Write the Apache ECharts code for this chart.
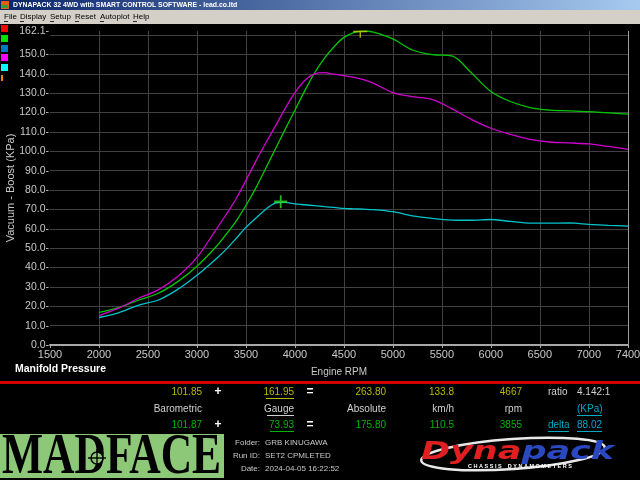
<!DOCTYPE html>
<html><head><meta charset="utf-8">
<script src="https://cdn.jsdelivr.net/npm/echarts@6/dist/echarts.min.js"></script>
<style>html,body{margin:0;padding:0;background:#000}#c{width:640px;height:480px}</style>
</head><body><div id="c"></div>
<script>
// ---- data ----
const rpm = [2000,2200,2400,2600,2800,3000,3200,3300,3400,3500,3600,3700,3800,3900,4000,4100,4200,4300,4400,4500,4600,4700,4800,5000,5200,5400,5600,5800,6000,6200,6400,6600,6800,7000,7200,7400];
const boostGreen = [16.9,19.3,23.1,26.6,32.6,40.7,51,57.3,64,72,81,91,101.2,111.3,121.2,131.2,140.4,148,154,158.8,161.3,162.1,161.5,158,152.3,149.9,149.2,140.5,130.9,125.7,122.6,121.3,120.9,120.5,119.8,119.2];
const boostMagenta = [15.2,19,24,28.3,35.2,45.2,60,67.5,75.5,85,94.8,104,113,122,130.3,136.5,140,140.6,139.8,139.1,138.2,137,135.2,130.3,128.2,126.8,122,116.5,111.9,108.7,106.2,104.8,104.3,103.8,102.5,101];
const boostCyan = [14.2,16.6,20.5,23.1,28.6,36,44.7,49.5,55,60.7,65.4,70,73.2,73.6,72.9,72.4,71.9,71.4,71,70.5,70.3,70.1,69.9,68.8,66.7,65.4,64.5,64.4,64.8,63.8,62.9,62.9,63,62.3,61.8,61.4];
const cursorGreen = [4667, 161.95];
const cursorCyan = [3855, 73.93];
const xMin = 1500, xMax = 7400, xStep = 500;
const yMin = 0, yMax = 162.1, yStep = 10;
const titleText = 'DYNAPACK 32 4WD with SMART CONTROL SOFTWARE - lead.co.ltd';
const menuItems = ['File','Display','Setup','Reset','Autoplot','Help'];
const row1 = ['101.85','161.95','263.80','133.8','4667','4.142:1'];
const row2 = ['Barometric','Gauge','Absolute','km/h','rpm','(KPa)'];
const row3 = ['101.87','73.93','175.80','110.5','3855','88.02'];
const infoLabels = ['Folder:','Run ID:','Date:'];
const infoValues = ['GRB KINUGAWA','SET2 CPMLETED','2024-04-05 16:22:52'];

function zip(xs, ys){ return xs.map((x,i)=>[x, ys[i]]); }

const chart = echarts.init(document.getElementById('c'), null, {renderer:'canvas', width:640, height:480});
const F = "'Liberation Sans', Arial, sans-serif";
const g = [];
// title bar
g.push({type:'rect', shape:{x:0,y:0,width:640,height:10}, style:{fill:new echarts.graphic.LinearGradient(0,0,1,0,[{offset:0,color:'#0a246a'},{offset:1,color:'#a6caf0'}])}});
g.push({type:'rect', shape:{x:1,y:1,width:8,height:8}, style:{fill:'#e06010'}});
g.push({type:'rect', shape:{x:2,y:5,width:6,height:3}, style:{fill:'#30a030'}});
g.push({type:'text', x:13, y:5, scaleX:0.86, style:{text:titleText, fill:'#fff', font:'bold 8px '+F, textVerticalAlign:'middle'}});
// menu
g.push({type:'rect', shape:{x:0,y:10,width:640,height:14}, style:{fill:'#d4d0c8'}});
const menuX = [4,20,50,75,100,133];
menuItems.forEach((m,i)=>{
  g.push({type:'text', x:menuX[i], y:17, style:{text:m, fill:'#000', font:'8px '+F, textVerticalAlign:'middle'}});
  g.push({type:'rect', shape:{x:menuX[i],y:21,width:4,height:0.8}, style:{fill:'#000'}});
});
// legend squares
[['#ff0000',25],['#00e000',35],['#0078c0',45],['#ff00ff',54],['#00ffff',64]].forEach(s=>{
  g.push({type:'rect', shape:{x:1,y:s[1],width:7,height:7}, style:{fill:s[0]}});
});
g.push({type:'rect', shape:{x:1,y:75,width:2,height:6}, style:{fill:'#ff8000'}});
// manifold pressure label
g.push({type:'text', x:15, y:369, style:{text:'Manifold Pressure', fill:'#fff', font:'bold 10.5px '+F, textVerticalAlign:'middle'}});
// red separator
g.push({type:'rect', shape:{x:0,y:381,width:640,height:3}, style:{fill:'#d00000'}});
// value rows
const colX = [202,294,386,454,522];
const rowY = [392,409,425];
const rowColors = ['#b8b800','#d0d0d0','#00b400'];
const RF = '10px '+F;
[row1,row2,row3].forEach((row,ri)=>{
  for(let c=0;c<5;c++){
    g.push({type:'text', x:colX[c], y:rowY[ri], style:{text:row[c], fill:rowColors[ri], font:RF, textAlign:'right', textVerticalAlign:'middle'}});
  }
});
[[266,294,0,'#b8b800'],[267,294,1,'#d0d0d0'],[270,294,2,'#00b400']].forEach(u=>{
  g.push({type:'rect', shape:{x:u[0],y:rowY[u[2]]+6,width:u[1]-u[0],height:1}, style:{fill:u[3]}});
});
[0,2].forEach(ri=>{
  g.push({type:'text', x:218, y:rowY[ri], style:{text:'+', fill:'#fff', font:'bold 12px '+F, textAlign:'center', textVerticalAlign:'middle'}});
  g.push({type:'text', x:310, y:rowY[ri], style:{text:'=', fill:'#fff', font:'bold 12px '+F, textAlign:'center', textVerticalAlign:'middle'}});
});
g.push({type:'text', x:548, y:rowY[0], style:{text:'ratio', fill:'#d0d0d0', font:RF, textVerticalAlign:'middle'}});
g.push({type:'text', x:577, y:rowY[0], style:{text:row1[5], fill:'#d0d0d0', font:RF, textVerticalAlign:'middle'}});
g.push({type:'text', x:577, y:rowY[1], style:{text:row2[5], fill:'#00a8c8', font:RF, textVerticalAlign:'middle'}});
g.push({type:'rect', shape:{x:577,y:rowY[1]+6,width:25,height:1}, style:{fill:'#00a8c8'}});
g.push({type:'text', x:548, y:rowY[2], style:{text:'delta', fill:'#00a8c8', font:RF, textVerticalAlign:'middle'}});
g.push({type:'rect', shape:{x:548,y:rowY[2]+6,width:21,height:1}, style:{fill:'#00a8c8'}});
g.push({type:'text', x:577, y:rowY[2], style:{text:row3[5], fill:'#00a8c8', font:RF, textVerticalAlign:'middle'}});
g.push({type:'rect', shape:{x:577,y:rowY[2]+6,width:25,height:1}, style:{fill:'#00a8c8'}});
// MADFACE logo
g.push({type:'rect', shape:{x:0,y:434,width:224,height:44}, style:{fill:'#8cc878'}});
g.push({type:'text', x:2, y:458, scaleX:0.75, style:{text:'MADFACE', fill:'#000', font:'bold 58px "Liberation Serif", serif', textVerticalAlign:'middle'}});
g.push({type:'circle', shape:{cx:97,cy:458,r:6}, style:{fill:'#8cc878', stroke:'#000', lineWidth:1.5}});
g.push({type:'rect', shape:{x:88,y:457.3,width:18,height:1.4}, style:{fill:'#000'}});
g.push({type:'rect', shape:{x:96.3,y:449,width:1.4,height:18}, style:{fill:'#000'}});
// info
infoLabels.forEach((l,i)=>{
  g.push({type:'text', x:260, y:443+i*13, style:{text:l, fill:'#c8c8c8', font:'8px '+F, textAlign:'right', textVerticalAlign:'middle'}});
  g.push({type:'text', x:265, y:443+i*13, style:{text:infoValues[i], fill:'#c8c8c8', font:'8px '+F, textVerticalAlign:'middle'}});
});
// Dynapack logo
g.push({type:'ellipse', shape:{cx:513,cy:454,rx:92,ry:15}, rotation:0.07, originX:513, originY:454, style:{fill:'none', stroke:'#e8e8e8', lineWidth:2.5}});
g.push({type:'text', x:421, y:452, scaleX:1.4, style:{text:'{r|Dyna}{b|pack}', rich:{r:{fill:'#e02020',font:'italic bold 25px "DejaVu Sans", sans-serif'},b:{fill:'#2a48c0',font:'italic bold 25px "DejaVu Sans", sans-serif'}}, textVerticalAlign:'middle'}});
g.push({type:'text', x:468, y:466, style:{text:'C H A S S I S    D Y N A M O M E T E R S', fill:'#fff', font:'bold 5.5px '+F, textVerticalAlign:'middle'}});

const option = {
  backgroundColor:'#000',
  animation:false,
  grid:{left:50, right:12, top:31, bottom:135, containLabel:false, outerBoundsMode:'none'},
  xAxis:{type:'value', min:xMin, max:xMax, interval:xStep,
    name:'Engine RPM', nameLocation:'middle', nameGap:22, nameMoveOverlap:false,
    nameTextStyle:{color:'#c8c8c8', fontSize:10, fontFamily:F},
    axisLine:{show:true, lineStyle:{color:'#a8a8a8', width:2}},
    axisTick:{show:true, length:3, lineStyle:{color:'#a8a8a8'}},
    axisLabel:{color:'#c8c8c8', fontSize:11, fontFamily:F, margin:4, showMinLabel:true, showMaxLabel:true, formatter:v=>String(v)},
    splitLine:{show:true, showMinLine:false, showMaxLine:true, lineStyle:{color:'#404040', width:1}}
  },
  yAxis:{type:'value', min:yMin, max:yMax, interval:yStep,
    name:'Vacuum - Boost (KPa)', nameLocation:'middle', nameGap:34, nameRotate:90, nameMoveOverlap:false,
    nameTextStyle:{color:'#c8c8c8', fontSize:11, fontFamily:F},
    axisLine:{show:false}, axisTick:{show:false},
    axisLabel:{color:'#c8c8c8', fontSize:10.5, fontFamily:F, margin:1, showMinLabel:true, showMaxLabel:true,
      formatter:v=> (Math.abs(v-160)<1e-6) ? '' : (v.toFixed(1)+'-')},
    splitLine:{show:true, showMinLine:false, showMaxLine:false, lineStyle:{color:'#404040', width:1}}
  },
  graphic:{elements:g},
  series:[
    {type:'line', data:zip(rpm,boostGreen), showSymbol:false, smooth:0.35, lineStyle:{color:'#00c800', width:1.3}, z:3,
     markLine:{silent:true, symbol:'none', label:{show:false}, lineStyle:{color:'#a0a0a0', type:'solid', width:1}, data:[{xAxis:xMax}]}},
    {type:'line', data:zip(rpm,boostMagenta), showSymbol:false, smooth:0.35, lineStyle:{color:'#d000d0', width:1.3}, z:3},
    {type:'line', data:zip(rpm,boostCyan), showSymbol:false, smooth:0.25, lineStyle:{color:'#00c4cc', width:1.3}, z:3},
    {type:'scatter', data:[cursorCyan], symbol:'path://M0,5.2L13,5.2L13,7.6L0,7.6Z M5.6,0L7.4,0L7.4,13L5.6,13Z', symbolSize:[13,13], itemStyle:{color:'#30e030'}, z:5, silent:true},
    {type:'scatter', data:[cursorGreen], symbol:'path://M0,0L14,0L14,1.4L0,1.4Z M6.3,0L7.7,0L7.7,7L6.3,7Z', symbolSize:[14,7], symbolOffset:[0,3], itemStyle:{color:'#d8d800'}, z:5, silent:true}
  ]
};
chart.setOption(option);
</script></body></html>
